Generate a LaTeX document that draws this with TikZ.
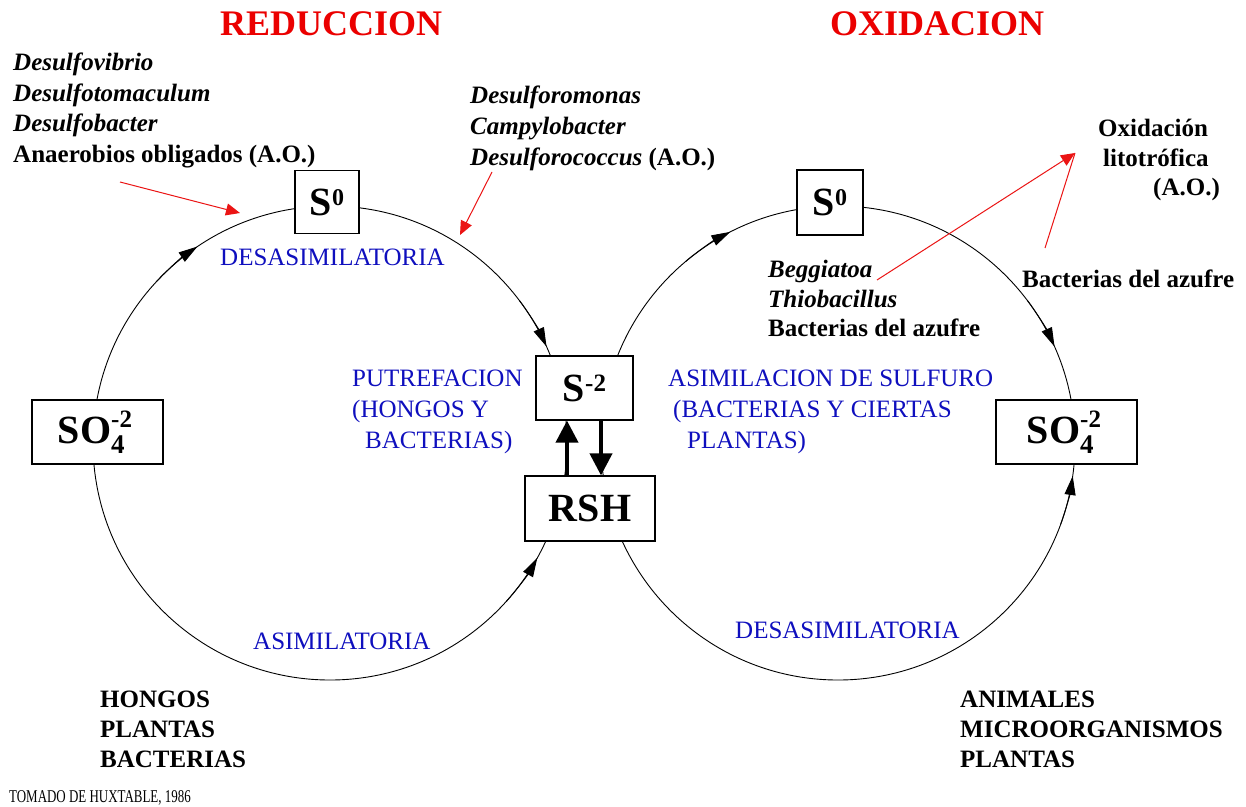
\documentclass[tikz,border=0pt]{standalone}
\usepackage{fontspec}
\setmainfont{Liberation Serif}
\usetikzlibrary{arrows.meta,calc}
\definecolor{titlered}{RGB}{235,0,0}
\definecolor{labblue}{RGB}{15,15,190}
\definecolor{arrred}{RGB}{235,20,20}
\newcommand\chsup[2]{\raisebox{#1}{\fontsize{24}{24}\selectfont #2}}
\newcommand\sofour{SO\rlap{\raisebox{16pt}{\fontsize{25}{25}\selectfont -2}}\raisebox{-10pt}{\fontsize{27}{27}\selectfont 4}\hphantom{\fontsize{25}{25}\selectfont 2}}
\begin{document}
\begin{tikzpicture}[x=1pt,y=1pt,
  txt/.style={anchor=base west,inner sep=0pt,font=\fontsize{25}{30}\selectfont\bfseries},
  gen/.style={anchor=base west,inner sep=0pt,font=\fontsize{25}{30}\selectfont\bfseries\itshape},
  blu/.style={anchor=base west,inner sep=0pt,text=labblue,font=\fontsize{25}{30}\selectfont},
  ttl/.style={anchor=base west,inner sep=0pt,text=titlered,font=\fontsize{36}{40}\selectfont\bfseries},
  chem/.style={draw,line width=1.2pt,fill=white,inner sep=0pt,font=\fontsize{40}{40}\selectfont\bfseries},
  cyc/.style={line width=0.9pt},
  cyca/.style={line width=0.9pt,-{Triangle[length=19pt,width=11pt]}},
  redarr/.style={draw=arrred,line width=1pt,-{Triangle[length=14pt,width=12pt]}},
  redln/.style={draw=arrred,line width=1pt},
  thickarr/.style={line width=4pt,-{Triangle[length=22pt,width=22pt]}}
]
\useasboundingbox[fill=white] (0,0) rectangle (1246,-806);

% cycles
\coordinate (Lc) at (330,-443);
\coordinate (Rc) at (838,-443);
\draw[cyc] (Lc) circle[radius=237];
\draw[cyc] (Rc) circle[radius=237];

% arrowheads on cycles
\draw[cyca] (Lc) ++(137:237) arc[start angle=137,end angle=124,radius=237];
\draw[cyca] (Lc) ++(37:237) arc[start angle=37,end angle=24,radius=237];
\draw[cyca] (Lc) ++(-42:237) arc[start angle=-42,end angle=-29,radius=237];
\draw[cyca] (Rc) ++(130:237) arc[start angle=130,end angle=117,radius=237];
\draw[cyca] (Rc) ++(37:237) arc[start angle=37,end angle=24,radius=237];
\draw[cyca] (Rc) ++(-20:237) arc[start angle=-20,end angle=-8,radius=237];

% boxes
\node[chem,minimum width=64pt,minimum height=63pt] (s0l) at (327,-202) {S\chsup{10pt}{0}};
\node[chem,minimum width=66pt,minimum height=65pt] (s0r) at (830,-202.5) {S\chsup{10pt}{0}};
\node[chem,minimum width=131pt,minimum height=64pt] (so4l) at (97.5,-432) {\sofour};
\node[chem,minimum width=141pt,minimum height=64pt] (so4r) at (1066.5,-432) {\sofour};
\node[chem,minimum width=97pt,minimum height=64pt] (s2) at (584.5,-388) {S\chsup{10pt}{\fontsize{25}{25}\selectfont -2}};
\node[chem,minimum width=130pt,minimum height=65pt] (rsh) at (590,-508.5) {RSH};

% thick arrows between S-2 and RSH
\coordinate (ux) at (567,0);
\coordinate (dx) at (601,0);
\draw[thickarr] (ux |- rsh.north) -- (ux |- s2.south);
\draw[thickarr] (dx |- s2.south) -- (dx |- rsh.north);

% titles
\node[ttl] (tred) at (220,-35) {REDUCCION};
\node[ttl] (tox) at (830,-35) {OXIDACION};

% left organisms
\node[gen] (d1) at (13,-70) {Desulfovibrio};
\node[gen] (d2) at (13,-101) {Desulfotomaculum};
\node[gen] (d3) at (13,-131) {Desulfobacter};
\node[txt] (ao1) at (13,-162) {Anaerobios obligados (A.O.)};

% middle organisms
\node[gen] (m1) at (470,-103) {Desulforomonas};
\node[gen] (m2) at (470,-134) {Campylobacter};
\node[txt] (m3) at (470,-165) {\textit{Desulforococcus} (A.O.)};

% right organisms
\node[gen] (b1) at (768,-277) {Beggiatoa};
\node[gen] (b2) at (768,-307) {Thiobacillus};
\node[txt] (b3) at (768,-336) {Bacterias del azufre};
\node[txt] (ox1) at (1098,-136) {Oxidación};
\node[txt] (ox2) at (1103,-166) {litotrófica};
\node[txt] (ox3) at (1153,-195) {(A.O.)};
\node[txt] (baz) at (1022,-287) {Bacterias del azufre};

% blue labels
\node[blu] (lb1) at (220,-265) {DESASIMILATORIA};
\node[blu] (lb2) at (352,-386) {PUTREFACION};
\node[blu] (lb3) at (352,-417) {(HONGOS Y};
\node[blu] (lb4) at (365,-448) {BACTERIAS)};
\node[blu] (lb5) at (668,-386) {ASIMILACION DE SULFURO};
\node[blu] (lb6) at (673,-417) {(BACTERIAS Y CIERTAS};
\node[blu] (lb7) at (687,-448) {PLANTAS)};
\node[blu] (lb8) at (253,-649) {ASIMILATORIA};
\node[blu] (lb9) at (735,-638) {DESASIMILATORIA};

% bottom lists
\node[txt] (h1) at (100,-707) {HONGOS};
\node[txt] (h2) at (100,-737) {PLANTAS};
\node[txt] (h3) at (100,-767) {BACTERIAS};
\node[txt] (a1) at (960,-707) {ANIMALES};
\node[txt] (a2) at (960,-737) {MICROORGANISMOS};
\node[txt] (a3) at (960,-767) {PLANTAS};
\node[anchor=base west,inner sep=0pt,font=\fontsize{18}{18}\selectfont] (src) at (9,-802) {\scalebox{0.72}[1]{TOMADO DE HUXTABLE, 1986}};

% red arrows
\coordinate (r1s) at (120,-182);
\coordinate (r1e) at (240,-213);
\coordinate (r2s) at (492,-172);
\coordinate (r2e) at (460,-235);
\coordinate (r3s) at (877,-280);
\coordinate (rtip) at (1075,-153);
\coordinate (r4s) at (1045,-248);
\draw[redarr] (r1s) -- (r1e);
\draw[redarr] (r2s) -- (r2e);
\draw[redln] (r4s) -- (rtip);
\draw[redarr] (r3s) -- (rtip);
\end{tikzpicture}
\end{document}
